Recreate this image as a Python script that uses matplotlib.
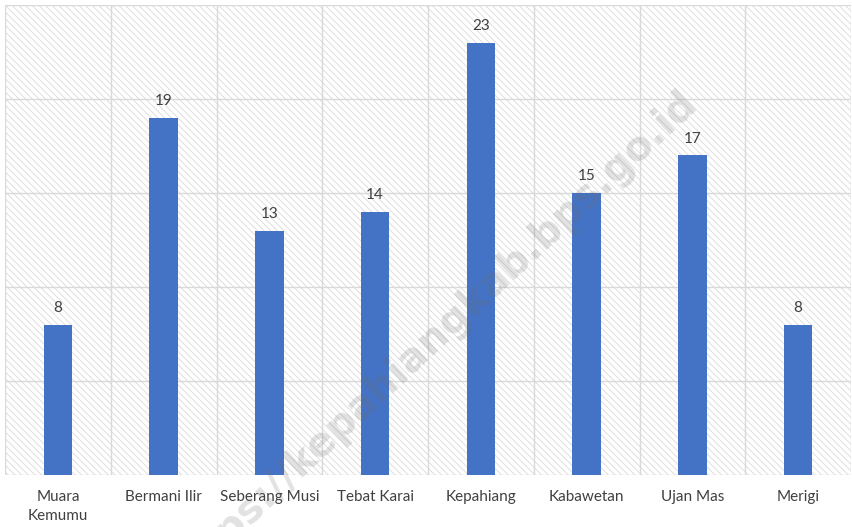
import matplotlib
matplotlib.use("Agg")
import matplotlib.pyplot as plt
from matplotlib.patches import Rectangle
import numpy as np

categories = ["Muara\nKemumu", "Bermani Ilir", "Seberang Musi", "Tebat Karai",
              "Kepahiang", "Kabawetan", "Ujan Mas", "Merigi"]
values = [8, 19, 13, 14, 23, 15, 17, 8]
y_ticks = [0, 5, 10, 15, 20, 25]

plt.rcParams['font.family'] = ['Lato', 'DejaVu Sans']
plt.rcParams['hatch.linewidth'] = 0.6

W, H = 852, 527
fig = plt.figure(figsize=(W / 100, H / 100), dpi=100)
ax = fig.add_axes([5 / W, 1 - 475 / H, 846 / W, 470 / H])

n = len(categories)
x = np.arange(n)
ax.set_xlim(-0.5, n - 0.5)
ax.set_ylim(0, 25)

# hatched background
bg = Rectangle((0, 0), 1, 1, transform=ax.transAxes, facecolor='white',
               edgecolor='#d9d9d9', linewidth=0, hatch='\\\\\\\\\\', zorder=0)
ax.add_patch(bg)

# grid lines
for yv in y_ticks:
    ax.axhline(yv, color='#d9d9d9', linewidth=1.0, zorder=1)
for xv in np.arange(-0.5, n, 1.0):
    ax.axvline(xv, color='#d9d9d9', linewidth=1.0, zorder=1)

bars = ax.bar(x, values, width=0.27, color='#4472c4', zorder=3)
for xi, v in zip(x, values):
    ax.annotate(str(v), (xi, v), xytext=(0, 7), textcoords='offset points',
                ha='center', va='bottom', fontsize=11, color='#404040', zorder=4)

ax.set_xticks(x)
ax.set_xticklabels(categories, fontsize=11, color='#404040', linespacing=1.45)
ax.tick_params(axis='x', length=0, pad=11)
ax.set_yticks([])
for s in ax.spines.values():
    s.set_visible(False)

# watermark
fig.text(432 / W, 1 - 339 / H, "https://kepahiangkab.bps.go.id", rotation=43,
         ha='center', va='center', fontsize=29, fontweight='bold',
         color='#707070', alpha=0.2, family=['DejaVu Sans'], zorder=10)

fig.savefig("out.png", dpi=100)
